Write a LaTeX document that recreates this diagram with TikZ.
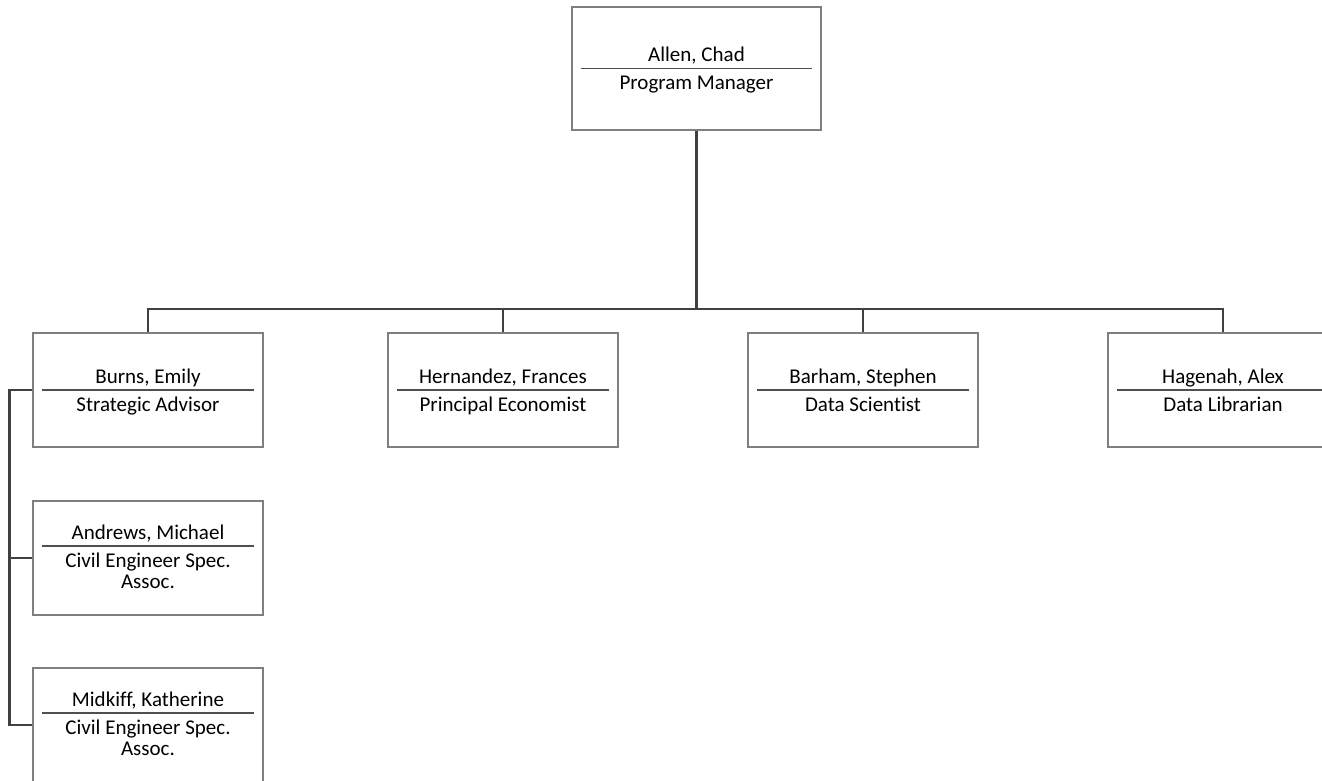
\documentclass[tikz,border=0pt]{standalone}
\usepackage{fontspec}
\setmainfont{Carlito}[Ligatures={NoCommon}]
\definecolor{boxgray}{HTML}{7F7F7F}
\definecolor{linegray}{HTML}{404040}
\definecolor{sepgray}{HTML}{505050}
\tikzset{
  orgbox/.style={draw=boxgray, line width=1.4pt, rectangle, inner sep=0pt, fill=white},
  sepline/.style={draw=sepgray, line width=1.1pt},
  lbl/.style={inner sep=0pt, align=center, font=\fontsize{21}{21.5}\selectfont, text=black},
  conn/.style={draw=linegray, line width=2.8pt}
}
% #1 name, #2 cx, #3 cy, #4 w, #5 h, #6 separator offset (up), #7 person, #8 title, #9 title last-baseline offset
\newcommand\orgbox[9]{%
  \node[orgbox, minimum width=#4, minimum height=#5] (#1) at (#2,#3) {};
  \draw[sepline] ([xshift=9.5pt,yshift=#6]#1.west) -- ([xshift=-9.5pt,yshift=#6]#1.east);
  \node[lbl, anchor=base] (#1-name) at ([yshift=#6+7pt]#1.center) {#7};
  \node[lbl, anchor=base] (#1-title) at ([yshift=#6-#9]#1.center) {#8};
}
\begin{document}
\begin{tikzpicture}[x=1pt, y=-1pt]
\useasboundingbox (0,0) rectangle (1322,780);
\clip (0,0) rectangle (1322,780);
\fill[white] (0,0) rectangle (1322,780);
\coordinate (bus) at (0,309);
\coordinate (trunk) at (9.5,0);

\orgbox{allen}{696.5}{68.5}{249pt}{123pt}{0pt}{Allen, Chad}{Program Manager}{21pt}
\orgbox{burns}{148}{390}{230pt}{114pt}{0pt}{Burns, Emily}{Strategic Advisor}{21pt}
\orgbox{hern}{503}{390}{230pt}{114pt}{0pt}{Hernandez, Frances}{Principal Economist}{21pt}
\orgbox{barham}{863}{390}{230pt}{114pt}{0pt}{Barham, Stephen}{Data Scientist}{21pt}
\orgbox{hagenah}{1223}{390}{230pt}{114pt}{0pt}{Hagenah, Alex}{Data Librarian}{21pt}
\orgbox{andrews}{148}{558}{230pt}{114pt}{12pt}{Andrews, Michael}{Civil Engineer Spec.\\Assoc.}{42.5pt}
\orgbox{midkiff}{148}{725}{230pt}{114pt}{12pt}{Midkiff, Katherine}{Civil Engineer Spec.\\Assoc.}{42.5pt}

\draw[conn] (allen.south) -- (allen.south |- bus);
\draw[conn] (burns.north) -- (burns.north |- bus) -- (hagenah.north |- bus) -- (hagenah.north);
\draw[conn] (hern.north |- bus) -- (hern.north);
\draw[conn] (barham.north |- bus) -- (barham.north);
\draw[conn] (burns.west) -- (burns.west -| trunk) -- (midkiff.west -| trunk) -- (midkiff.west);
\draw[conn] (andrews.west -| trunk) -- (andrews.west);
\end{tikzpicture}
\end{document}
